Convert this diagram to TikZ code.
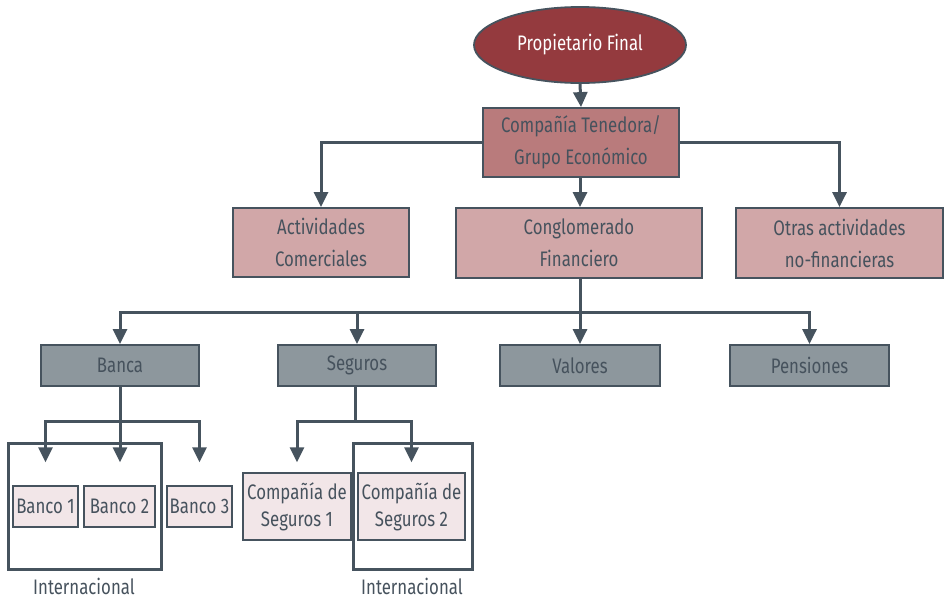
\documentclass[tikz,border=0pt]{standalone}
\usepackage{fontspec}
\setmainfont{Fira Sans}[FakeStretch=0.80]
\usetikzlibrary{arrows.meta,shapes.geometric}
\definecolor{lc}{HTML}{46535E}
\definecolor{txt}{HTML}{46525D}
\definecolor{topred}{HTML}{943A3E}
\definecolor{tenred}{HTML}{B97B7C}
\definecolor{midred}{HTML}{D1A7A8}
\definecolor{grayb}{HTML}{8D979D}
\definecolor{pinkb}{HTML}{F2E6E8}
\tikzset{
  x=1pt,y=1pt,
  conn/.style={draw=lc,line width=3pt},
  arr/.style={conn,-{Triangle[length=15pt,width=14pt]}},
  basebox/.style={rectangle,draw=lc,line width=1.8pt,inner sep=0pt,align=center,text=txt,font=\fontsize{21}{32}\selectfont},
  redbox/.style={basebox,fill=midred},
  graybox/.style={basebox,fill=grayb,font=\fontsize{21}{24}\selectfont},
  smallbox/.style={basebox,fill=pinkb,line width=1.4pt,font=\fontsize{21}{27}\selectfont},
  frame/.style={draw=lc,line width=3pt},
  lab/.style={text=txt,font=\fontsize{21}{24}\selectfont}
}
\begin{document}
\begin{tikzpicture}
\useasboundingbox (0,0) rectangle (945,-600);
% top
\node[ellipse,draw=lc,line width=1.8pt,fill=topred,minimum width=212pt,minimum height=76pt,inner sep=0pt,text=white,font=\fontsize{21}{24}\selectfont] (own) at (580,-45) {Propietario Final};
\node[basebox,fill=tenred,minimum width=196pt,minimum height=69pt] (ten) at (581,-142.5) {Compañía Tenedora/\\Grupo Económico};
% level 2
\node[redbox,minimum width=176pt,minimum height=69pt] (act) at (321,-242.5) {Actividades\\Comerciales};
\node[redbox,minimum width=246pt,minimum height=70pt] (cong) at (579,-243) {Conglomerado\\Financiero};
\node[redbox,minimum width=207pt,minimum height=70pt] (otr) at (839.5,-243) {Otras actividades\\no-financieras};
% level 3
\node[graybox,minimum width=158pt,minimum height=41pt] (banca) at (120,-365.5) {Banca};
\node[graybox,minimum width=158pt,minimum height=41pt] (seg) at (357,-365.5) {Seguros};
\node[graybox,minimum width=160pt,minimum height=41pt] (val) at (580,-365.5) {Valores};
\node[graybox,minimum width=159pt,minimum height=41pt] (pen) at (809.5,-365.5) {Pensiones};
% frames
\draw[frame] (8,-443) rectangle (161,-569);
\draw[frame] (353,-443) rectangle (472,-569);
\node[lab] (int1) at (84,-586) {Internacional};
\node[lab] (int2) at (412,-586) {Internacional};
% level 4
\node[smallbox,minimum width=65pt,minimum height=41pt] (b1) at (45.5,-506.5) {Banco 1};
\node[smallbox,minimum width=71pt,minimum height=41pt] (b2) at (119.5,-506.5) {Banco 2};
\node[smallbox,minimum width=65pt,minimum height=41pt] (b3) at (199.5,-506.5) {Banco 3};
\node[smallbox,minimum width=108pt,minimum height=67pt] (s1) at (297,-506.5) {Compañía de\\Seguros 1};
\node[smallbox,minimum width=107pt,minimum height=67pt] (s2) at (411.5,-506.5) {Compañía de\\Seguros 2};
% connectors
\draw[arr] (own.south) -- (ten.north);
\draw[arr] ([xshift=-1pt]ten.south) -- ([xshift=1pt]cong.north);
\draw[arr] (ten.west) -| (act.north);
\draw[arr] (ten.east) -| (otr.north);
\coordinate (j1) at (580,-312);
\draw[conn] ([xshift=1pt]cong.south) -- (j1);
\draw[arr] (j1) -| (banca.north);
\draw[arr] (j1) -| (seg.north);
\draw[arr] (j1) -- (val.north);
\draw[arr] (j1) -| (pen.north);
\coordinate (j2) at (120,-421);
\draw[conn] (banca.south) -- (j2);
\draw[arr,shorten >=23pt] (j2) -| (b1.north);
\draw[arr,shorten >=23pt] (j2) -| ([xshift=0.5pt]b2.north);
\draw[arr,shorten >=23pt] (j2) -| (b3.north);
\coordinate (j3) at (355,-421);
\draw[conn] ([xshift=-2pt]seg.south) -- (j3);
\draw[arr,shorten >=10pt] (j3) -| (s1.north);
\draw[arr,shorten >=10pt] (j3) -| (s2.north);
\end{tikzpicture}
\end{document}
